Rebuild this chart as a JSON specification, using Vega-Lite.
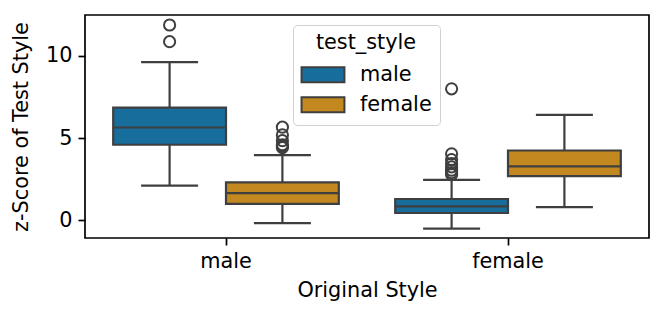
{
  "$schema": "https://vega.github.io/schema/vega-lite/v6.json",
  "width": 564,
  "height": 223,
  "autosize": {"type": "none"},
  "padding": {"left": 85, "top": 15, "right": 15, "bottom": 80},
  "datasets": {
    "boxes": [
      {"orig": "male", "test": "male", "lower": 2.11, "q1": 4.60, "median": 5.65, "q3": 6.86, "upper": 9.62},
      {"orig": "male", "test": "female", "lower": -0.16, "q1": 1.01, "median": 1.66, "q3": 2.31, "upper": 3.97},
      {"orig": "female", "test": "male", "lower": -0.50, "q1": 0.45, "median": 0.85, "q3": 1.30, "upper": 2.47},
      {"orig": "female", "test": "female", "lower": 0.81, "q1": 2.69, "median": 3.28, "q3": 4.25, "upper": 6.42}
    ],
    "outliers": [
      {"orig": "male", "test": "male", "value": 10.87},
      {"orig": "male", "test": "male", "value": 11.88},
      {"orig": "male", "test": "female", "value": 5.67},
      {"orig": "male", "test": "female", "value": 5.2},
      {"orig": "male", "test": "female", "value": 4.85},
      {"orig": "male", "test": "female", "value": 4.6},
      {"orig": "male", "test": "female", "value": 4.5},
      {"orig": "male", "test": "female", "value": 4.42},
      {"orig": "female", "test": "male", "value": 8.0},
      {"orig": "female", "test": "male", "value": 4.05},
      {"orig": "female", "test": "male", "value": 3.7},
      {"orig": "female", "test": "male", "value": 3.45},
      {"orig": "female", "test": "male", "value": 3.25},
      {"orig": "female", "test": "male", "value": 3.05},
      {"orig": "female", "test": "male", "value": 2.9},
      {"orig": "female", "test": "male", "value": 2.78}
    ]
  },
  "data": {"name": "boxes"},
  "encoding": {
    "x": {
      "field": "orig", "type": "nominal", "sort": ["male", "female"],
      "scale": {"paddingInner": 0, "paddingOuter": 0},
      "axis": {"title": "Original Style", "labelAngle": 0}
    },
    "xOffset": {
      "field": "test", "type": "nominal", "sort": ["male", "female"],
      "scale": {"paddingInner": 0, "paddingOuter": 0.25}
    }
  },
  "layer": [
    {
      "mark": {"type": "rule", "color": "#3f3f3f", "strokeWidth": 2.2},
      "encoding": {
        "y": {"field": "lower", "type": "quantitative"},
        "y2": {"field": "q1"}
      }
    },
    {
      "mark": {"type": "rule", "color": "#3f3f3f", "strokeWidth": 2.2},
      "encoding": {
        "y": {"field": "q3", "type": "quantitative"},
        "y2": {"field": "upper"}
      }
    },
    {
      "mark": {"type": "tick", "color": "#3f3f3f", "size": 57, "thickness": 2.2, "opacity": 1},
      "encoding": {"y": {"field": "lower", "type": "quantitative"}}
    },
    {
      "mark": {"type": "tick", "color": "#3f3f3f", "size": 57, "thickness": 2.2, "opacity": 1},
      "encoding": {"y": {"field": "upper", "type": "quantitative"}}
    },
    {
      "mark": {"type": "bar", "stroke": "#3f3f3f", "strokeWidth": 2.2, "opacity": 1},
      "encoding": {
        "y": {
          "field": "q1", "type": "quantitative",
          "scale": {"domain": [-1.07, 12.49], "nice": false, "zero": false},
          "axis": {"title": "z-Score of Test Style", "values": [0, 5, 10]}
        },
        "y2": {"field": "q3"},
        "color": {
          "field": "test", "type": "nominal",
          "scale": {"domain": ["male", "female"], "range": ["#176d9c", "#c38820"]},
          "legend": {
            "title": "test_style",
            "orient": "none",
            "legendX": 208,
            "legendY": 10,
            "direction": "vertical",
            "symbolType": "M-1.43,-0.5H1.43V0.5H-1.43Z",
            "symbolSize": 900,
            "symbolStrokeColor": "#3f3f3f",
            "symbolStrokeWidth": 2,
            "symbolOpacity": 1,
            "symbolOffset": 6,
            "labelOffset": 21,
            "rowPadding": 2,
            "titlePadding": 5,
            "titleAnchor": "middle",
            "padding": 8,
            "strokeColor": "#d0d0d0",
            "fillColor": "#ffffff",
            "cornerRadius": 4
          }
        }
      }
    },
    {
      "mark": {"type": "tick", "color": "#3f3f3f", "size": 113, "thickness": 2.2, "opacity": 1},
      "encoding": {"y": {"field": "median", "type": "quantitative"}}
    },
    {
      "data": {"name": "outliers"},
      "mark": {"type": "point", "shape": "circle", "filled": false, "stroke": "#3f3f3f", "strokeWidth": 2, "size": 125, "opacity": 1},
      "encoding": {"y": {"field": "value", "type": "quantitative"}}
    }
  ],
  "config": {
    "font": "DejaVu Sans",
    "view": {"stroke": "#000000", "strokeWidth": 1.7},
    "axis": {
      "domain": false,
      "grid": false,
      "tickColor": "#000000",
      "tickWidth": 1.7,
      "tickSize": 7,
      "labelFont": "DejaVu Sans",
      "labelFontSize": 20.8,
      "labelColor": "#000000",
      "labelPadding": 6,
      "titleFont": "DejaVu Sans",
      "titleFontSize": 20.8,
      "titleFontWeight": "normal",
      "titleColor": "#000000"
    },
    "axisX": {"titlePadding": 10},
    "axisY": {"titlePadding": 14},
    "legend": {
      "titleFont": "DejaVu Sans",
      "titleFontSize": 20.8,
      "titleFontWeight": "normal",
      "titleColor": "#000000",
      "labelFont": "DejaVu Sans",
      "labelFontSize": 20.8,
      "labelColor": "#000000"
    }
  }
}
